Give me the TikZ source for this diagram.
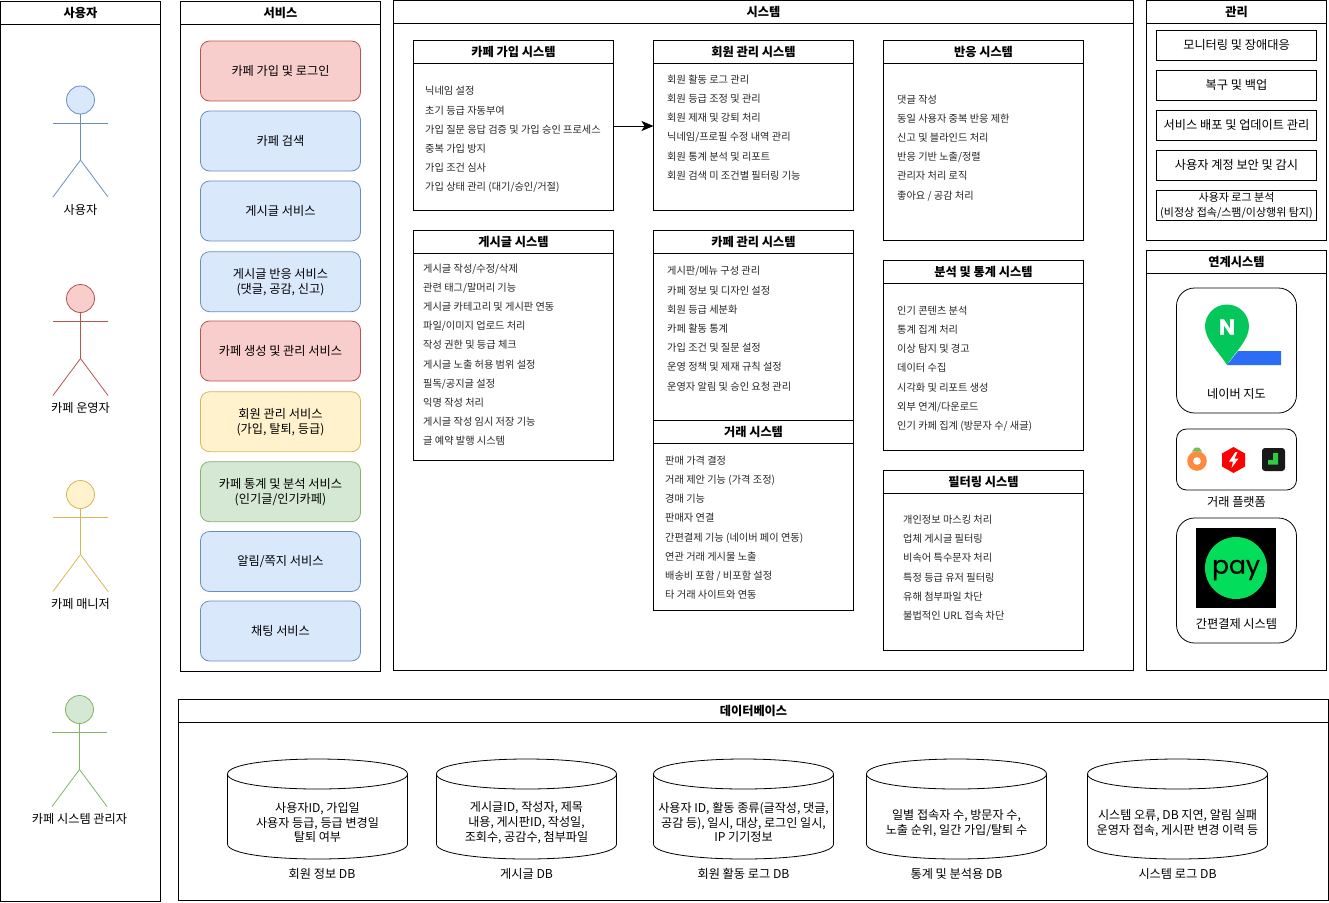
\documentclass[tikz,border=0pt]{standalone}
\usepackage{fontspec}
\setmainfont{Noto Sans CJK KR}
\newfontfamily\logofont[FakeBold=0.5]{Poppins}
\usetikzlibrary{arrows.meta}
\definecolor{redfill}{HTML}{F8CECC}
\definecolor{redline}{HTML}{B85450}
\definecolor{bluefill}{HTML}{DAE8FC}
\definecolor{blueline}{HTML}{6C8EBF}
\definecolor{yellowfill}{HTML}{FFF2CC}
\definecolor{yellowline}{HTML}{D6B656}
\definecolor{greenfill}{HTML}{D5E8D4}
\definecolor{greenline}{HTML}{82B366}
\definecolor{navergreen}{HTML}{03C75A}
\definecolor{naverblue}{HTML}{2B6EF5}
\definecolor{paygreen}{HTML}{03DE5A}
\definecolor{carrot}{HTML}{FF8A3D}
\definecolor{joongna}{HTML}{2ECC40}
\tikzset{
lane/.style={draw=black,line width=1pt},
lanetitle/.style={font=\fontsize{12.2}{14}\selectfont\bfseries,inner sep=0pt},
listtext/.style={anchor=west,align=left,inner sep=0pt,text=black!85,font=\fontsize{10.2}{19.2}\selectfont},
plaintext/.style={align=center,inner sep=0pt,font=\fontsize{12.2}{15}\selectfont},
svcbox/.style={shape=rectangle,rounded corners=9pt,align=center,minimum width=160pt,minimum height=60pt,inner sep=0pt,outer sep=0pt,line width=0.8pt,font=\fontsize{12.2}{15}\selectfont},
svcred/.style={svcbox,draw=redline,fill=redfill},
svcblue/.style={svcbox,draw=blueline,fill=bluefill},
svcyellow/.style={svcbox,draw=yellowline,fill=yellowfill},
svcgreen/.style={svcbox,draw=greenline,fill=greenfill},
opsbox/.style={shape=rectangle,draw=black,line width=0.8pt,align=center,minimum width=160pt,minimum height=30pt,inner sep=0pt,outer sep=0pt,font=\fontsize{12.2}{15}\selectfont},
linkbox/.style={shape=rectangle,draw=black,line width=0.8pt,minimum width=120pt,inner sep=0pt,outer sep=0pt},
dbtext/.style={align=center,inner sep=0pt,font=\fontsize{12.1}{14.6}\selectfont},
}
\newcommand{\lanebox}[6]{%
\draw[lane] (#2,#3) rectangle (#4,#5);
\draw[lane] (#2,#3+23) -- (#4,#3+23);
\node[lanetitle] (#1) at ({(#2+#4)/2},#3+11.5) {#6};}
\newcommand{\actorfig}[6]{%
\node[shape=circle,draw=#4,fill=#5,line width=0.8pt,minimum size=28pt,inner sep=0pt,outer sep=0pt] (#1) at (#2,#3) {};
\coordinate (#1hip) at (#2,#3+60);
\coordinate (#1arml) at (#2-27.5,#3+23);
\coordinate (#1armr) at (#2+27.5,#3+23);
\coordinate (#1footl) at (#2-27.5,#3+97);
\coordinate (#1footr) at (#2+27.5,#3+97);
\path [-,draw=#4,line width=0.8pt] (#1) edge (#1hip);
\path [-,draw=#4,line width=0.8pt] (#1arml) edge (#1armr);
\path [-,draw=#4,line width=0.8pt] (#1hip) edge (#1footl);
\path [-,draw=#4,line width=0.8pt] (#1hip) edge (#1footr);
\node[plaintext] (#1label) at (#2,#3+#6) {\actorname};}
\newcommand{\dbcan}[1]{%
\draw[line width=0.8pt] (#1,774) .. controls (#1,754) and (#1+180,754) .. (#1+180,774) -- (#1+180,844) .. controls (#1+180,864) and (#1,864) .. (#1,844) -- cycle;
\draw[line width=0.8pt] (#1,774) .. controls (#1,794) and (#1+180,794) .. (#1+180,774);}
\begin{document}
\begin{tikzpicture}[x=1pt,y=-1pt]
\useasboundingbox (0,0) rectangle (1329,902);
\lanebox{lusr}{0.5}{1}{160.5}{901}{사용자}
\lanebox{lsvc}{180.5}{1}{380.5}{671}{서비스}
\lanebox{lsys}{393.5}{0.5}{1133.5}{670.5}{시스템}
\lanebox{lops}{1146.5}{0.5}{1326.5}{240.5}{관리}
\lanebox{llnk}{1146.5}{250.5}{1326.5}{670.5}{연계시스템}
\lanebox{ldb}{178.5}{699.5}{1328.5}{900.5}{데이터베이스}

\def\actorname{사용자}
\actorfig{a1}{80.5}{100}{blueline}{bluefill}{109.8}
\def\actorname{카페 운영자}
\actorfig{a2}{80.5}{298.5}{redline}{redfill}{109.3}
\def\actorname{카페 매니저}
\actorfig{a3}{80.5}{494.5}{yellowline}{yellowfill}{109.3}
\def\actorname{카페 시스템 관리자}
\actorfig{a4}{79.5}{709.5}{greenline}{greenfill}{109.3}

\node[svcred] (s1) at (280.5,71) {카페 가입 및 로그인};
\node[svcblue] (s2) at (280.5,141) {카페 검색};
\node[svcblue] (s3) at (280.5,211) {게시글 서비스};
\node[svcblue] (s4) at (280.5,281.7) {게시글 반응 서비스\\(댓글, 공감, 신고)};
\node[svcred] (s5) at (280.5,351) {카페 생성 및 관리 서비스};
\node[svcyellow] (s6) at (280.5,421.7) {회원 관리 서비스\\(가입, 탈퇴, 등급)};
\node[svcgreen] (s7) at (280.5,491.7) {카페 통계 및 분석 서비스\\(인기글/인기카페)};
\node[svcblue] (s8) at (280.5,561.5) {알림/쪽지 서비스};
\node[svcblue] (s9) at (280.5,631) {채팅 서비스};

\lanebox{join}{413.5}{40.5}{613.5}{210.5}{카페 가입 시스템}
\node[listtext] (joinlist) at (425,139.7) {닉네임 설정\\초기 등급 자동부여\\가입 질문 응답 검증 및 가입 승인 프로세스\\중복 가입 방지\\가입 조건 심사\\가입 상태 관리 (대기/승인/거절)};
\lanebox{memb}{653.5}{40.5}{853.5}{210.5}{회원 관리 시스템}
\node[listtext] (memblist) at (667,127.5) {회원 활동 로그 관리\\회원 등급 조정 및 관리\\회원 제재 및 강퇴 처리\\닉네임/프로필 수정 내역 관리\\회원 통계 분석 및 리포트\\회원 검색 미 조건별 필터링 기능};
\lanebox{post}{413.5}{230.5}{613.5}{460.5}{게시글 시스템}
\node[listtext] (postlist) at (423,354.7) {게시글 작성/수정/삭제\\관련 태그/말머리 기능\\게시글 카테고리 및 게시판 연동\\파일/이미지 업로드 처리\\작성 권한 및 등급 체크\\게시글 노출 허용 범위 설정\\필독/공지글 설정\\익명 작성 처리\\게시글 작성 임시 저장 기능\\글 예약 발행 시스템};
\lanebox{cafe}{653.5}{230.5}{853.5}{420.5}{카페 관리 시스템}
\node[listtext] (cafelist) at (667,328.7) {게시판/메뉴 구성 관리\\카페 정보 및 디자인 설정\\회원 등급 세분화\\카페 활동 통계\\가입 조건 및 질문 설정\\운영 정책 및 제재 규칙 설정\\운영자 알림 및 승인 요청 관리};
\lanebox{deal}{653.5}{420.5}{853.5}{610.5}{거래 시스템}
\node[listtext] (deallist) at (665,527.7) {판매 가격 결정\\거래 제안 기능 (가격 조정)\\경매 기능\\판매자 연결\\간편결제 기능 (네이버 페이 연동)\\연관 거래 게시물 노출\\배송비 포함 / 비포함 설정\\타 거래 사이트와 연동};
\lanebox{resp}{883.5}{40.5}{1083.5}{240.5}{반응 시스템}
\node[listtext] (resplist) at (897,147.7) {댓글 작성\\동일 사용자 중복 반응 제한\\신고 및 블라인드 처리\\반응 기반 노출/정렬\\관리자 처리 로직\\좋아요 / 공감 처리};
\lanebox{stat}{883.5}{260.5}{1083.5}{450.5}{분석 및 통계 시스템}
\node[listtext] (statlist) at (897,368.7) {인기 콘텐츠 분석\\통계 집계 처리\\이상 탐지 및 경고\\데이터 수집\\시각화 및 리포트 생성\\외부 연계/다운로드\\인기 카페 집계 (방문자 수/ 새글)};
\lanebox{filt}{883.5}{470.5}{1083.5}{650.5}{필터링 시스템}
\node[listtext] (filtlist) at (903,567.7) {개인정보 마스킹 처리\\업체 게시글 필터링\\비속어 특수문자 처리\\특정 등급 유저 필터링\\유해 첨부파일 차단\\불법적인 URL 접속 차단};

\coordinate (joinout) at (613.5,126);
\coordinate (membin) at (653.5,126);
\draw [-{Stealth[length=12pt,width=10pt,inset=3pt]},draw=black,line width=0.8pt] (joinout) -- (membin);

\node[opsbox] (o1) at (1236.5,45) {모니터링 및 장애대응};
\node[opsbox] (o2) at (1236.5,85) {복구 및 백업};
\node[opsbox] (o3) at (1236.5,125) {서비스 배포 및 업데이트 관리};
\node[opsbox] (o4) at (1236.5,165) {사용자 계정 보안 및 감시};
\node[opsbox,font=\fontsize{11}{14.6}\selectfont] (o5) at (1236.5,205.7) {사용자 로그 분석\\(비정상 접속/스팸/이상행위 탐지)};

\node[linkbox,rounded corners=18pt,minimum height=125pt] (mapbox) at (1236.5,350.5) {};
\fill[naverblue] (1238,351) -- (1281,351) -- (1281,365) -- (1227,365) -- cycle;
\fill[navergreen] (1227,365) .. controls (1219,352) and (1205,340) .. (1205,326.5) arc[start angle=180,end angle=360,radius=22] .. controls (1249,340) and (1235,352) .. (1227,365) -- cycle;
\node[text=white,inner sep=0pt,font=\logofont\fontsize{21.5}{22}\selectfont\bfseries] (mapn) at (1227,327) {N};
\node[plaintext] (maplabel) at (1236.5,393.5) {네이버 지도};
\node[linkbox,rounded corners=10pt,minimum height=61pt] (shopbox) at (1236.5,459.5) {};
\fill[greenline!80!green] (1192,451.5) -- (1195,447.5) -- (1199,447.5) -- (1202,451.5) -- cycle;
\fill[carrot,even odd rule] (1197,461) circle[radius=9.8] (1197,461) circle[radius=4];
\fill[red] (1233.5,447) -- (1245,453.5) -- (1245,466.5) -- (1233.5,473) -- (1222,466.5) -- (1222,453.5) -- cycle;
\fill[white] (1235.5,452) -- (1229,461.5) -- (1233,461.5) -- (1231.5,468) -- (1238.5,458.5) -- (1234.5,458.5) -- (1237.5,452) -- cycle;
\fill[black!90,rounded corners=3pt] (1262,448) rectangle (1285,471);
\fill[joongna] (1273,453) rectangle (1278,464.5) (1268,460) rectangle (1278,464.5);
\node[plaintext] (shoplabel) at (1236.5,501.5) {거래 플랫폼};
\node[linkbox,rounded corners=18pt,minimum height=125pt] (paybox) at (1236.5,580.5) {};
\fill[black] (1196,528) rectangle (1276,608);
\fill[paygreen] (1236,568) circle[radius=31];
\node[inner sep=0pt,font=\logofont\fontsize{25}{25}\selectfont] (paytext) at (1236,570) {pay};
\node[plaintext] (paylabel) at (1236.5,623.5) {간편결제 시스템};

\dbcan{227.5}
\node[dbtext] (d1) at (317.5,822.7) {사용자ID, 가입일\\사용자 등급, 등급 변경일\\탈퇴 여부};
\node[plaintext] (d1label) at (322,873.5) {회원 정보 DB};
\dbcan{436.5}
\node[dbtext] (d2) at (526.5,822.7) {게시글ID, 작성자, 제목\\내용, 게시판ID, 작성일,\\조회수, 공감수, 첨부파일};
\node[plaintext] (d2label) at (526.5,873.5) {게시글 DB};
\dbcan{653.5}
\node[dbtext] (d3) at (743.5,822.7) {사용자 ID, 활동 종류(글작성, 댓글,\\공감 등), 일시, 대상, 로그인 일시,\\IP 기기정보};
\node[plaintext] (d3label) at (743.5,873.5) {회원 활동 로그 DB};
\dbcan{866.5}
\node[dbtext] (d4) at (956.5,823) {일별 접속자 수, 방문자 수,\\노출 순위, 일간 가입/탈퇴 수};
\node[plaintext] (d4label) at (956.5,873.5) {통계 및 분석용 DB};
\dbcan{1087.5}
\node[dbtext] (d5) at (1177.5,823) {시스템 오류, DB 지연, 알림 실패\\운영자 접속, 게시판 변경 이력 등};
\node[plaintext] (d5label) at (1177.5,873.5) {시스템 로그 DB};
\end{tikzpicture}
\end{document}
